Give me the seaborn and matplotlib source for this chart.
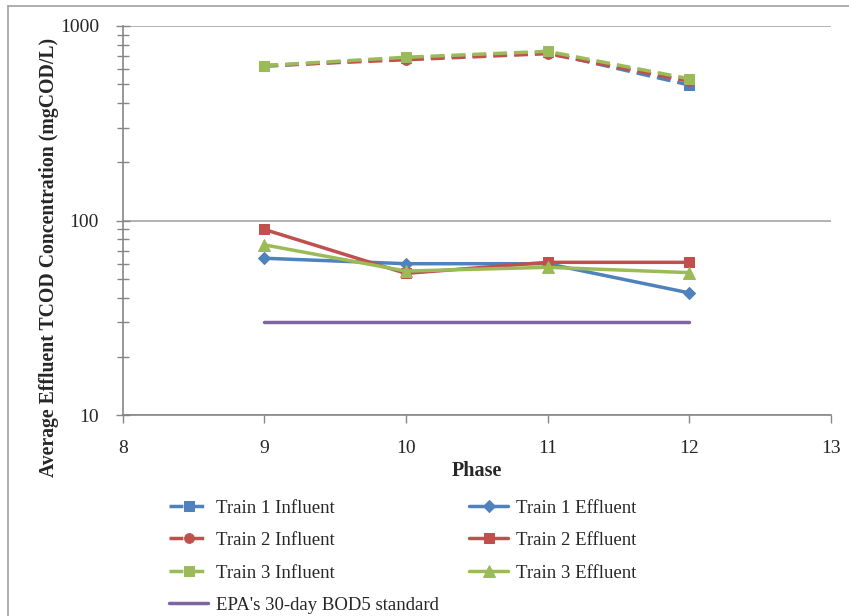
import matplotlib
matplotlib.use("Agg")
import matplotlib.pyplot as plt
import seaborn as sns
import pandas as pd
from matplotlib.ticker import LogLocator, NullFormatter, FixedLocator, FuncFormatter
from matplotlib.lines import Line2D

# data
phase = [9, 10, 11, 12]
train1_influent = [620, 680, 730, 497]
train2_influent = [625, 670, 720, 520]
train3_influent = [625, 690, 740, 535]
train1_effluent = [64, 60, 60, 42.5]
train2_effluent = [90, 53.5, 61, 61]
train3_effluent = [75, 55, 57.5, 54]
epa_phase = [9, 12]
epa_standard = [30, 30]

blue = "#4F81BD"
red = "#C0504D"
green = "#9BBB59"
purple = "#8064A2"

sns.set_theme(style="white")
plt.rcParams['font.family'] = ['Liberation Serif', 'DejaVu Serif']

fig = plt.figure(figsize=(8.49, 6.16), dpi=100)
ax = fig.add_axes([0.1445, 0.326, 0.834, 0.632])

series = [
    ("Train 1 Influent", phase, train1_influent, blue, "s", (4, 2), 7),
    ("Train 2 Influent", phase, train2_influent, red, "o", (4, 2), 7),
    ("Train 3 Influent", phase, train3_influent, green, "s", (4, 2), 7.5),
    ("EPA's 30-day BOD5 standard", epa_phase, epa_standard, purple, None, "", 0),
    ("Train 1 Effluent", phase, train1_effluent, blue, "D", "", 6),
    ("Train 2 Effluent", phase, train2_effluent, red, "s", "", 7.5),
    ("Train 3 Effluent", phase, train3_effluent, green, "^", "", 8),
]

for label, xs, ys, color, marker, dash, ms in series:
    df = pd.DataFrame({"x": xs, "y": ys})
    kw = dict(data=df, x="x", y="y", ax=ax, color=color, label=label,
              linewidth=2.5)
    if marker:
        kw.update(marker=marker, markersize=ms, markeredgecolor=color)
    line = sns.lineplot(**kw).get_lines()[-1]
    if dash:
        line.set_dashes(dash)

ax.set_yscale("log")
ax.set_ylim(10, 1000)
ax.set_xlim(8, 13)
ax.xaxis.set_major_locator(FixedLocator([8, 9, 10, 11, 12, 13]))
ax.yaxis.set_major_locator(FixedLocator([10, 100, 1000]))
ax.yaxis.set_major_formatter(FuncFormatter(lambda v, p: f"{int(v)}"))
ax.yaxis.set_minor_locator(LogLocator(base=10, subs=range(2, 10)))
ax.yaxis.set_minor_formatter(NullFormatter())

ax.grid(axis="y", which="major", color="#A6A6A6", linewidth=1.2)
ax.grid(axis="x", visible=False)
for s in ["top", "right"]:
    ax.spines[s].set_visible(False)
for s in ["left", "bottom"]:
    ax.spines[s].set_color("#868686")
    ax.spines[s].set_linewidth(1.2)

ax.tick_params(axis="y", which="major", direction="inout", length=10,
               color="#868686", width=1, left=True, labelsize=14, pad=12)
ax.tick_params(axis="y", which="minor", direction="inout", length=8,
               color="#868686", width=1, left=True)
ax.tick_params(axis="x", which="major", direction="out", length=6,
               color="#868686", width=1, bottom=True, labelsize=14, pad=12)

ax.set_xlabel("Phase", fontsize=14.5, fontweight="bold", labelpad=3)
ax.set_ylabel("Average Effluent TCOD Concentration (mgCOD/L)", fontsize=14.2,
              fontweight="bold")
ax.yaxis.set_label_coords(-0.09, 0.405)

ax.legend(loc="upper left", bbox_to_anchor=(0.055, -0.197), ncol=2,
          frameon=False, fontsize=13.5, handlelength=2.1, handletextpad=0.4,
          columnspacing=1.6, labelspacing=0.82, borderaxespad=0)

# screenshot frame: only top and left edges are visible
fig.lines.append(Line2D([0.0094, 1.0], [0.990, 0.990], transform=fig.transFigure,
                        color="#A0A0A0", linewidth=1.2))
fig.lines.append(Line2D([0.0094, 0.0094], [0.0, 0.990], transform=fig.transFigure,
                        color="#A0A0A0", linewidth=1.2))

fig.savefig("out.png", dpi=100)
